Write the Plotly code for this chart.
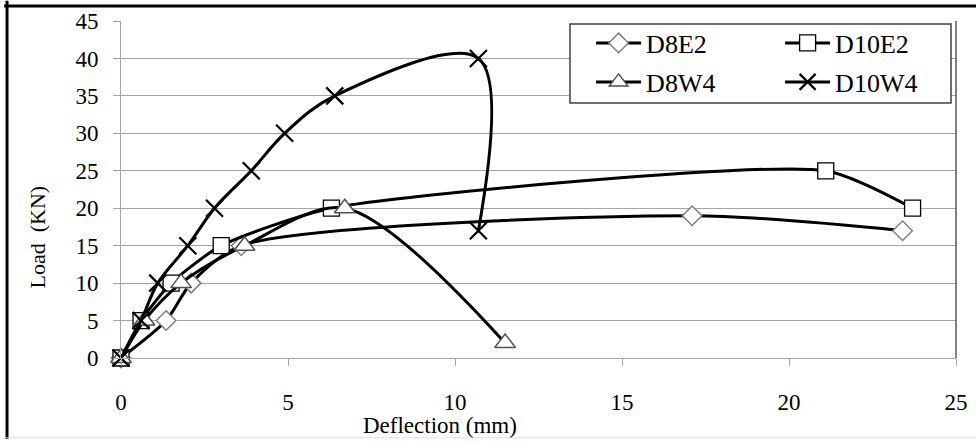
import plotly.graph_objects as go

# ---- data ----
d8e2_x = [0, 1.35, 2.1, 3.6, 17.1, 23.4]
d8e2_y = [0, 5, 10, 15, 19, 17]

d10e2_x = [0, 0.6, 1.5, 3.0, 6.3, 21.1, 23.7]
d10e2_y = [0, 5, 10, 15, 20, 25, 20]

d8w4_x = [0, 0.7, 1.8, 3.7, 6.7, 11.5]
d8w4_y = [0, 5, 10, 15, 20, 2]

d10w4_x = [0, 0.6, 1.1, 2.0, 2.8, 3.9, 4.9, 6.4, 10.7, 10.7]
d10w4_y = [0, 5, 10, 15, 20, 25, 30, 35, 40, 17]

x_ticks = [0, 5, 10, 15, 20, 25]
y_ticks = [0, 5, 10, 15, 20, 25, 30, 35, 40, 45]

FONT = "Liberation Serif"

fig = go.Figure()

def add(name, xs, ys, symbol, size, mcolor, mline, mwidth, smooth, legend):
    fig.add_trace(go.Scatter(
        x=xs, y=ys, name=name, mode="lines+markers",
        line=dict(color="black", width=3, shape="spline", smoothing=smooth),
        marker=dict(symbol=symbol, size=size, color=mcolor,
                    line=dict(color=mline, width=mwidth)),
        cliponaxis=False, legend=legend,
    ))

add("D8E2", d8e2_x, d8e2_y, "diamond", 15, "white", "#7f7f7f", 1.5, 0.75, "legend")
add("D10E2", d10e2_x, d10e2_y, "square", 16, "white", "black", 1.3, 0.6, "legend")
add("D8W4", d8w4_x, d8w4_y, "triangle-up", 18, "white", "#505050", 1.5, 0.9, "legend2")
add("D10W4", d10w4_x, d10w4_y, "x-thin-open", 17, "black", "black", 2.2, 1.0, "legend2")

leg_common = dict(
    orientation="h", xanchor="left", yanchor="middle",
    bgcolor="rgba(0,0,0,0)", borderwidth=0,
    font=dict(family=FONT, size=26, color="black"),
    entrywidth=129, itemwidth=45,
)

fig.update_layout(
    width=976, height=442,
    margin=dict(l=121, r=20, t=21, b=84, autoexpand=False),
    paper_bgcolor="white", plot_bgcolor="white",
    font=dict(family=FONT, color="black", size=23),
    showlegend=True,
    legend=dict(x=0.563, y=0.9347, **leg_common),
    legend2=dict(x=0.563, y=0.819, **leg_common),
    xaxis=dict(
        range=[0, 25], tickvals=x_ticks, ticktext=[str(v) for v in x_ticks],
        showgrid=False, zeroline=False, showline=True, linecolor="#a6a6a6",
        linewidth=1, ticks="outside", ticklen=7, tickcolor="#a6a6a6",
        ticklabelstandoff=16, tickfont=dict(family=FONT, size=23),
        automargin=False,
    ),
    yaxis=dict(
        range=[0, 45], tickvals=y_ticks, ticktext=[str(v) for v in y_ticks],
        showgrid=True, gridcolor="#a6a6a6", gridwidth=1,
        zeroline=False, showline=True, linecolor="#a6a6a6", linewidth=1,
        ticks="outside", ticklen=7, tickcolor="#a6a6a6",
        ticklabelstandoff=10, tickfont=dict(family=FONT, size=23),
        automargin=False,
    ),
    annotations=[
        dict(text="Deflection (mm)", xref="paper", yref="paper",
             x=0.382, y=-0.201, xanchor="center", yanchor="middle",
             showarrow=False,
             font=dict(family=FONT, size=23, color="black")),
        dict(text="Load  (KN)", xref="paper", yref="paper",
             x=-0.1, y=0.359, xanchor="center", yanchor="middle",
             showarrow=False, textangle=-90,
             font=dict(family=FONT, size=22, color="black")),
    ],
    shapes=[
        # legend box
        dict(type="rect", xref="paper", yref="paper", layer="above",
             x0=0.5377, x1=0.994, y0=0.7567, y1=0.991,
             fillcolor="white", line=dict(color="#404040", width=1.5)),
        # right border of plot area
        dict(type="line", xref="paper", yref="paper", x0=1, x1=1, y0=0, y1=1,
             line=dict(color="#595959", width=1.5)),
        # outer frame of the picture
        dict(type="line", xref="paper", yref="paper", x0=-0.1365, x1=-0.1365,
             y0=-0.24, y1=1.06, line=dict(color="black", width=3)),
        dict(type="line", xref="paper", yref="paper", x0=-0.14, x1=1.03,
             y0=1.0445, y1=1.0445, line=dict(color="black", width=3)),
        dict(type="line", xref="paper", yref="paper", x0=-0.14, x1=1.03,
             y0=-0.237, y1=-0.237, line=dict(color="#dddddd", width=1)),
    ],
)

fig.write_html("out.html")
